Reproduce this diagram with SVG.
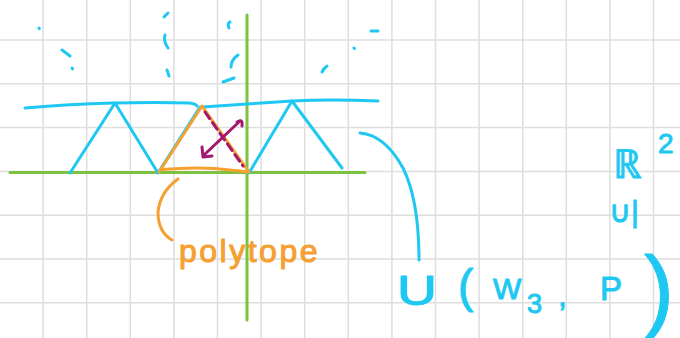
<svg xmlns="http://www.w3.org/2000/svg" width="680" height="338" viewBox="0 0 680 338">
<style>
.grid{stroke:#dedede;stroke-width:1.5;fill:none}
.pen{fill:none;stroke-linecap:round;stroke-linejoin:round;stroke-width:3}
.cy{stroke:#1ec8f2}
.gr{stroke:#7dc243}
.or{stroke:#f5a030}
.pu{stroke:#a3176e}
.tc{fill:#1ec8f2;stroke:#1ec8f2;stroke-width:1;font-family:"Liberation Sans",Arial,sans-serif}
.to{fill:#f5a030;stroke:#f5a030;stroke-width:1;font-family:"Liberation Sans",Arial,sans-serif}
</style>
<rect width="680" height="338" fill="#ffffff"/>
<g id="grid" class="grid">
<path d="M43.1 0V338M86.7 0V338M130.3 0V338M173.9 0V338M217.5 0V338M261.1 0V338M304.7 0V338M348.3 0V338M391.9 0V338M435.5 0V338M479.1 0V338M522.7 0V338M566.3 0V338M609.9 0V338M653.5 0V338"/>
<path d="M0 40H680M0 83.8H680M0 127.6H680M0 171.4H680M0 215.2H680M0 259H680M0 302.8H680"/>
</g>
<g id="axes" class="pen gr">
<path d="M10 172.6H365"/>
<path d="M247 15V320"/>
</g>
<g id="scribbles" class="pen cy">
<path d="M39 28L39.3 28.6"/>
<path d="M62 50L70 56"/>
<path d="M72 68L72.6 68.8"/>
<path d="M164 17L168 13"/>
<path d="M165 35Q163 41 168 48"/>
<path d="M167 70Q168 73 169 76"/>
<path d="M230 22Q227 23 229 28"/>
<path d="M238 55Q231 60 231 67"/>
<path d="M223 82L234 78"/>
<path d="M371 31H378"/>
<path d="M354 48L354.5 48.6"/>
<path d="M322 72Q324 68 327 66"/>
</g>
<g id="lattice" class="pen cy">
<path d="M25 108Q70 104 113 103Q155 102 190 103Q196 104 197 106"/>
<path d="M203 107L247 104L292 101Q330 99 378 101"/>
<path d="M70 173L115 103L158 173L200 107"/>
<path d="M249 173L292 101L342 168"/>
</g>
<g id="polytope" class="pen or">
<path d="M159 172L202 106L249 172Q230 170 215 168.5Q190 167 162 169.5"/>
<path d="M178 179Q160 192 158 212Q158 232 172 240"/>
<text class="to" x="179" y="262" font-size="32" letter-spacing="2.5">polytope</text>
</g>
<g id="arrows" class="pen pu">
<path d="M205 112L243 166" stroke-dasharray="8 5"/>
<path d="M240 121L204 155"/>
<path d="M237 122Q243 118 242 126"/>
<path d="M202 147L203 157L212 156"/>
</g>
<g id="label" class="pen cy">
<path d="M360 133Q385 135 403 168Q419 200 419 260"/>
<text class="tc" x="397" y="305" font-size="42" textLength="40" lengthAdjust="spacingAndGlyphs">U</text>
<text class="tc" x="458" y="302" font-size="46">(</text>
<text class="tc" x="493" y="299" font-size="30">W</text>
<text class="tc" x="527" y="313" font-size="27">3</text>
<text class="tc" x="558" y="306" font-size="32">,</text>
<text class="tc" x="600" y="300" font-size="33">P</text>
<text class="tc" x="644" y="320" font-size="90" stroke-width="2">)</text>
<text class="tc" x="613" y="178" font-size="40" font-family="DejaVu Sans,sans-serif">ℝ</text>
<text class="tc" x="658" y="153" font-size="28">2</text>
<text class="tc" x="609" y="222" font-size="30" font-family="DejaVu Sans,sans-serif">∪|</text>
</g>
</svg>
